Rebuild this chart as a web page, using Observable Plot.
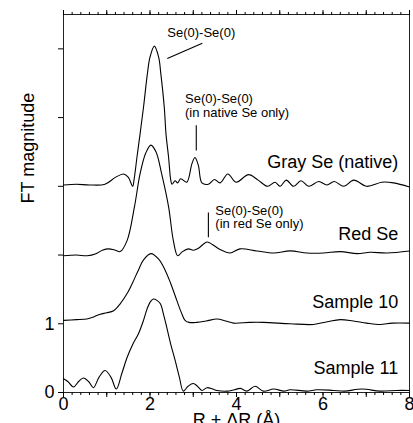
<!DOCTYPE html>
<html><head><meta charset="utf-8">
<script src="https://cdn.jsdelivr.net/npm/d3@7"></script>
<script src="https://cdn.jsdelivr.net/npm/@observablehq/plot@0.6"></script>
<style>
body{margin:0;background:#fff;overflow:hidden}
svg{font-family:"Liberation Sans",Arial,Helvetica,sans-serif}
</style>
</head><body><div id="chart"></div>
<script>
// Gray Se (native), offset baseline 3
const grayX = [0,0.3,0.6,0.96,1.2,1.39,1.5,1.6,1.63,1.70,1.77,1.85,1.94,2.0,2.1,2.2,2.25,2.33,2.37,2.43,2.48,2.51,2.58,2.64,2.71,2.85,2.97,3.04,3.12,3.2,3.35,3.49,3.62,3.80,3.99,4.28,4.5,4.72,4.89,5.01,5.15,5.32,5.49,5.67,5.9,6.09,6.26,6.48,6.71,7.01,7.36,7.63,8.0];
const grayY = [3.02,3.03,3.02,3.03,3.13,3.18,3.13,3.0,3.09,3.43,3.76,4.15,4.64,4.88,5.04,4.88,4.64,4.15,3.76,3.42,3.09,3.03,3.08,3.05,3.11,3.06,3.33,3.42,3.30,3.05,3.03,3.10,3.05,3.18,3.06,3.17,3.09,3.0,3.06,3.0,3.09,3.0,3.08,3.0,3.07,3.02,3.07,3.0,3.09,3.0,3.06,3.05,2.99];
// Red Se, offset baseline 2
const redX = [0,0.3,0.55,0.75,0.9,1.04,1.2,1.31,1.47,1.64,1.77,1.9,2.02,2.14,2.27,2.43,2.54,2.64,2.75,2.89,3.0,3.12,3.32,3.45,3.62,3.85,4.08,4.47,4.86,5.24,5.63,6.01,6.4,6.79,7.09,7.48,8.0];
const redY = [1.99,2.0,1.99,2.02,2.07,2.09,2.07,2.05,2.21,2.70,3.18,3.48,3.60,3.50,3.18,2.70,2.21,1.99,2.05,2.09,2.07,2.10,2.19,2.15,2.08,2.03,2.09,2.06,2.03,2.06,2.03,2.03,2.05,2.02,2.04,2.03,2.06];
// Sample 10, offset baseline 1
const s10X = [0,0.3,0.54,0.7,0.85,1.0,1.16,1.31,1.47,1.6,1.73,1.85,2.02,2.2,2.35,2.47,2.62,2.72,2.81,2.9,3.08,3.3,3.55,3.75,3.93,4.3,4.62,5.24,5.78,6.1,6.4,6.7,7.01,7.32,7.6,8.0];
const s10Y = [1.05,1.06,1.07,1.10,1.14,1.16,1.19,1.29,1.44,1.60,1.78,1.93,2.02,1.94,1.78,1.60,1.34,1.17,1.05,1.02,1.02,1.04,1.07,1.04,1.01,1.02,1.02,1.0,0.99,1.03,1.06,1.04,1.01,0.99,1.01,1.01];
// Sample 11, no offset
const s11X = [0,0.1,0.23,0.35,0.46,0.58,0.69,0.82,0.96,1.1,1.22,1.35,1.47,1.6,1.73,1.85,1.94,2.02,2.08,2.16,2.24,2.32,2.39,2.48,2.58,2.68,2.77,2.88,3.0,3.1,3.2,3.32,3.45,3.55,3.78,3.95,4.09,4.24,4.43,4.62,4.86,5.1,5.24,5.63,5.86,6.24,6.5,6.9,7.32,7.7,8.0];
const s11Y = [0.20,0.16,0.08,0.16,0.21,0.16,0.07,0.22,0.32,0.22,0.05,0.28,0.51,0.70,0.85,1.05,1.23,1.33,1.36,1.34,1.29,1.12,0.94,0.70,0.47,0.22,0.02,0.09,0.13,0.09,0.03,0.07,0.05,0.03,0.02,0.04,0.06,0.02,0.09,0.02,0.05,0.02,0.04,0.02,0.04,0.03,0.02,0.05,0.02,0.03,0.03];

const seriesNames = ["Gray Se (native)", "Red Se", "Sample 10", "Sample 11"];
const labelX = [7.74, 7.74, 7.74, 7.74];
const labelY = [3.35, 2.30, 1.31, 0.36];

const annText = ["Se(0)-Se(0)", "Se(0)-Se(0)\n(in native Se only)", "Se(0)-Se(0)\n(in red Se only)"];
const annX = [2.40, 2.81, 3.51];
const annY = [5.23, 4.17, 2.55];
const leadX1 = [2.40, 3.07, 3.35];
const leadY1 = [4.86, 3.89, 2.62];
const leadX2 = [3.21, 3.07, 3.35];
const leadY2 = [5.08, 3.52, 2.26];

const yTicks = [0, 1, 2, 3, 4, 5];
const yTickLabels = ["0", "1", "", "", "", ""];
const xMajorTicks = [0, 1, 2, 3, 4, 5, 6, 7, 8];
const xTickLabels = ["0", "", "2", "", "4", "", "6", "", "8"];
const xMinorTicks = d3.range(0, 8.001, 0.2).map(v => +v.toFixed(1));
const xTitle = "R + ΔR (Å)";
const yTitle = "FT magnitude";

const xs = [grayX, redX, s10X, s11X];
const ys = [grayY, redY, s10Y, s11Y];
const rows = seriesNames.flatMap((name, i) => xs[i].map((x, j) => ({series: name, x, y: ys[i][j]})));
const labels = seriesNames.map((t, i) => ({t, x: labelX[i], y: labelY[i]}));
const anns = annText.map((t, i) => ({t, x: annX[i], y: annY[i]}));
const leads = leadX1.map((x1, i) => ({x1, y1: leadY1[i], x2: leadX2[i], y2: leadY2[i]}));

const chart = Plot.plot({
  width: 413,
  height: 440,
  marginLeft: 63,
  marginRight: 4,
  marginTop: 14,
  marginBottom: 48,
  style: {fontSize: "18px", fontFamily: "'Liberation Sans', Arial, sans-serif", background: "#fff", color: "#000"},
  x: {domain: [0, 8], label: null},
  y: {domain: [0, 5.5], label: null},
  marks: [
    Plot.frame({stroke: "#222", strokeWidth: 1}),
    Plot.axisX({anchor: "bottom", ticks: xMinorTicks, tickSize: 3, tickFormat: () => "", label: null}),
    Plot.axisX({anchor: "bottom", ticks: xMajorTicks, tickSize: 5, tickPadding: 0, tickFormat: (d, i) => xTickLabels[xMajorTicks.indexOf(d)], label: null}),
    Plot.axisX({anchor: "top", ticks: xMinorTicks, tickSize: 3, tickFormat: () => "", label: null}),
    Plot.axisX({anchor: "top", ticks: xMajorTicks, tickSize: 5, tickFormat: () => "", label: null}),
    Plot.axisY({anchor: "left", ticks: yTicks, tickSize: 5, tickPadding: 4, tickFormat: d => yTickLabels[yTicks.indexOf(d)], label: null}),
    Plot.line(rows, {x: "x", y: "y", z: "series", stroke: "#000", strokeWidth: 1.1, curve: "catmull-rom"}),
    Plot.text(labels, {x: "x", y: "y", text: "t", textAnchor: "end", fontSize: 18, fill: "#000"}),
    Plot.text(anns, {x: "x", y: "y", text: "t", textAnchor: "start", lineAnchor: "middle", lineHeight: 1.05, fontSize: 13, fill: "#000"}),
    Plot.link(leads, {x1: "x1", y1: "y1", x2: "x2", y2: "y2", stroke: "#000", strokeWidth: 1.1}),
    Plot.text([xTitle], {frameAnchor: "bottom", lineAnchor: "top", dy: 21, fontSize: 18, fill: "#000"}),
    Plot.text([yTitle], {frameAnchor: "left", rotate: -90, dx: -35, fontSize: 18, fill: "#000"})
  ]
});
document.getElementById("chart").appendChild(chart);
</script>
</body></html>
